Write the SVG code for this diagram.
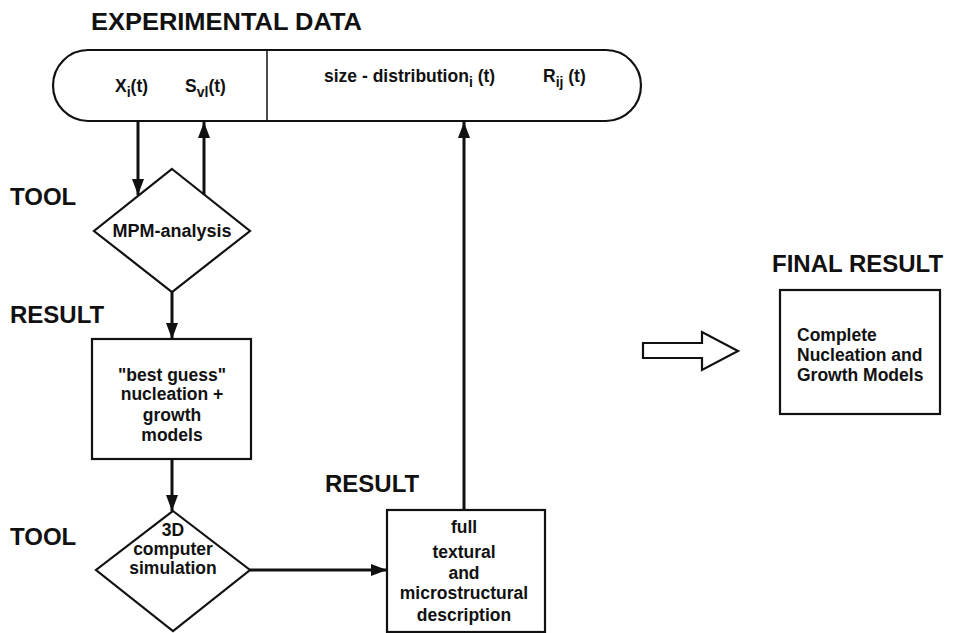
<svg xmlns="http://www.w3.org/2000/svg" width="962" height="633" viewBox="0 0 962 633">
<style>
text{font-family:"Liberation Sans",Arial,Helvetica,sans-serif;font-weight:bold;fill:#111}
.lbl{font-size:24px}
.n{font-size:17.5px}
.shape{fill:#fff;stroke:#111;stroke-width:2.2}
.conn{fill:none;stroke:#111;stroke-width:3}
</style>
<defs>
<marker id="ah" markerUnits="userSpaceOnUse" markerWidth="16" markerHeight="12" refX="16" refY="6" orient="auto">
<path d="M0,0 L16,6 L0,12 Z" fill="#111"/>
</marker>
</defs>
<rect width="962" height="633" fill="#fff"/>

<g id="labels">
<text class="lbl" x="91" y="30" textLength="271" lengthAdjust="spacingAndGlyphs">EXPERIMENTAL DATA</text>
<text class="lbl" x="10" y="205">TOOL</text>
<text class="lbl" x="10" y="323">RESULT</text>
<text class="lbl" x="10" y="545">TOOL</text>
<text class="lbl" x="325" y="492">RESULT</text>
<text class="lbl" x="772" y="272">FINAL RESULT</text>
</g>

<g id="experimental-data">
<path class="shape" d="M88,50 H606 A35,35.5 0 0 1 606,121 H88 A35,35.5 0 0 1 88,50 Z"/>
<line x1="267" y1="50" x2="267" y2="121" stroke="#111" stroke-width="1.5"/>
<text class="n" x="115" y="92">X<tspan dy="5" font-size="14">i</tspan><tspan dy="-5">(t)</tspan></text>
<text class="n" x="185" y="92">S<tspan dy="5" font-size="14">vl</tspan><tspan dy="-5">(t)</tspan></text>
<text class="n" x="324" y="82">size - distribution<tspan dy="5" font-size="14">i</tspan><tspan dy="-5"> (t)</tspan></text>
<text class="n" x="543" y="82">R<tspan dy="5" font-size="14">ij</tspan><tspan dy="-5"> (t)</tspan></text>
</g>

<g id="mpm-analysis">
<polygon class="shape" points="172,169 250,231 172,292 94,231"/>
<text class="n" x="172" y="237" text-anchor="middle" style="font-size:18px">MPM-analysis</text>
</g>

<g id="best-guess">
<rect class="shape" x="92" y="339" width="159" height="120"/>
<text class="n" text-anchor="middle"><tspan x="172" y="381">"best guess"</tspan><tspan x="172" y="400">nucleation +</tspan><tspan x="172" y="421">growth</tspan><tspan x="172" y="441">models</tspan></text>
</g>

<g id="simulation">
<polygon class="shape" points="173,511 250,570 173,631 96,570"/>
<text class="n" text-anchor="middle"><tspan x="173" y="536">3D</tspan><tspan x="173" y="555">computer</tspan><tspan x="173" y="574">simulation</tspan></text>
</g>

<g id="description">
<rect class="shape" x="387" y="510" width="158" height="122"/>
<text class="n" text-anchor="middle"><tspan x="464" y="533">full</tspan><tspan x="464" y="558">textural</tspan><tspan x="464" y="579">and</tspan><tspan x="464" y="599">microstructural</tspan><tspan x="464" y="621">description</tspan></text>
</g>

<g id="final-result">
<rect class="shape" x="780" y="290" width="160" height="124"/>
<text class="n"><tspan x="797" y="341">Complete</tspan><tspan x="797" y="361">Nucleation and</tspan><tspan x="797" y="381">Growth Models</tspan></text>
</g>

<g id="connectors">
<line class="conn" x1="138" y1="121" x2="138" y2="195" marker-end="url(#ah)"/>
<line class="conn" x1="204" y1="195" x2="204" y2="122" marker-end="url(#ah)"/>
<line class="conn" x1="172" y1="292" x2="172" y2="339" marker-end="url(#ah)"/>
<line class="conn" x1="172" y1="459" x2="172" y2="511" marker-end="url(#ah)"/>
<line class="conn" x1="250" y1="570" x2="387" y2="570" marker-end="url(#ah)"/>
<line class="conn" x1="464" y1="510" x2="464" y2="122" marker-end="url(#ah)"/>
<polygon points="643,343 702,343 702,332 738,351 702,370 702,358 643,358" fill="#fff" stroke="#111" stroke-width="2.2"/>
</g>
</svg>
